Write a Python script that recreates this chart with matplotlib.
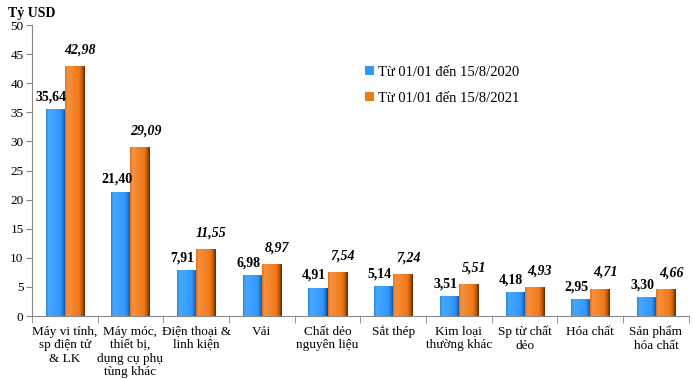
import numpy as np
import matplotlib.pyplot as plt
from matplotlib.colors import LinearSegmentedColormap
from matplotlib import transforms

plt.rcParams['font.family'] = ['Liberation Serif', 'DejaVu Serif']

categories = ['Máy vi tính,\nsp điện tử\n& LK', 'Máy móc,\nthiết bị,\ndụng cụ phụ\ntùng khác',
              'Điện thoại &\nlinh kiện', 'Vải', 'Chất dẻo\nnguyên liệu', 'Sắt thép',
              'Kim loại\nthường khác', 'Sp từ chất\ndẻo', 'Hóa chất', 'Sản phẩm\nhóa chất']
v2020 = [35.64, 21.40, 7.91, 6.98, 4.91, 5.14, 3.51, 4.18, 2.95, 3.30]
v2021 = [42.98, 29.09, 11.55, 8.97, 7.54, 7.24, 5.51, 4.93, 4.71, 4.66]
labels = ['Từ 01/01 đến 15/8/2020', 'Từ 01/01 đến 15/8/2021']

blue_cm = LinearSegmentedColormap.from_list(
    'b', [(0, '#2a86dc'), (0.12, '#45a8ff'), (0.7, '#3399ff'), (0.85, '#2a7fd8'), (1, '#123f78')])
orange_cm = LinearSegmentedColormap.from_list(
    'o', [(0, '#e0701a'), (0.12, '#f89040'), (0.7, '#f07a18'), (0.85, '#c85f10'), (1, '#5a2a06')])

fig = plt.figure(figsize=(6.93, 3.79), dpi=100)
ax = fig.add_axes([0.046, 0.166, 0.948, 0.768])

x = np.arange(len(categories))
w = 0.29
grad = np.linspace(0, 1, 64).reshape(1, -1)


def gradient_bars(xs, vals, cmap, base_color, lab):
    bars = ax.bar(xs, vals, w, color=base_color, label=lab, zorder=2)
    for b in bars:
        x0, y0 = b.get_x(), b.get_y()
        im = ax.imshow(grad, cmap=cmap, aspect='auto', zorder=3,
                       extent=(x0, x0 + b.get_width(), y0, y0 + b.get_height()))
        im.set_clip_path(b)
    return bars


b1 = gradient_bars(x - w / 2, v2020, blue_cm, '#3399ff', labels[0])
b2 = gradient_bars(x + w / 2, v2021, orange_cm, '#f07a18', labels[1])

for xi, v in zip(x, v2020):
    t = transforms.offset_copy(ax.transData, fig=fig, x=-3, y=4, units='points')
    ax.text(xi - w / 2, v, f'{v:.2f}'.replace('.', ','), transform=t, ha='center',
            va='bottom', fontsize=10, fontweight='bold')
for xi, v in zip(x, v2021):
    t = transforms.offset_copy(ax.transData, fig=fig, x=4, y=7, units='points')
    ax.text(xi + w / 2, v, f'{v:.2f}'.replace('.', ','), transform=t, ha='center',
            va='bottom', fontsize=10, fontweight='bold', style='italic')

ax.set_xlim(-0.5, len(categories) - 0.5)
ax.set_ylim(0, 50)
ax.set_yticks(np.arange(0, 51, 5))
ax.set_xticks(x)
ax.set_xticklabels(categories, fontsize=9.5, linespacing=1.15)
ax.tick_params(axis='x', length=0, pad=7)
ax.set_xticks(np.arange(-0.5, len(categories), 1), minor=True)
ax.tick_params(axis='x', which='minor', length=5, color='#888888')
ax.tick_params(axis='y', labelsize=9.5, length=4, color='#888888', pad=2)
for s in ['top', 'right']:
    ax.spines[s].set_visible(False)
ax.spines['left'].set_color('#888888')
ax.spines['bottom'].set_color('#888888')

fig.text(0.012, 0.965, 'Tỷ USD', fontsize=10, fontweight='bold', va='center')

leg = ax.legend(loc='upper left', bbox_to_anchor=(0.487, 0.905), frameon=False,
                fontsize=10.5, handlelength=0.6, handleheight=0.6, handletextpad=0.3,
                labelspacing=0.9)

fig.savefig('out.png', dpi=100)
